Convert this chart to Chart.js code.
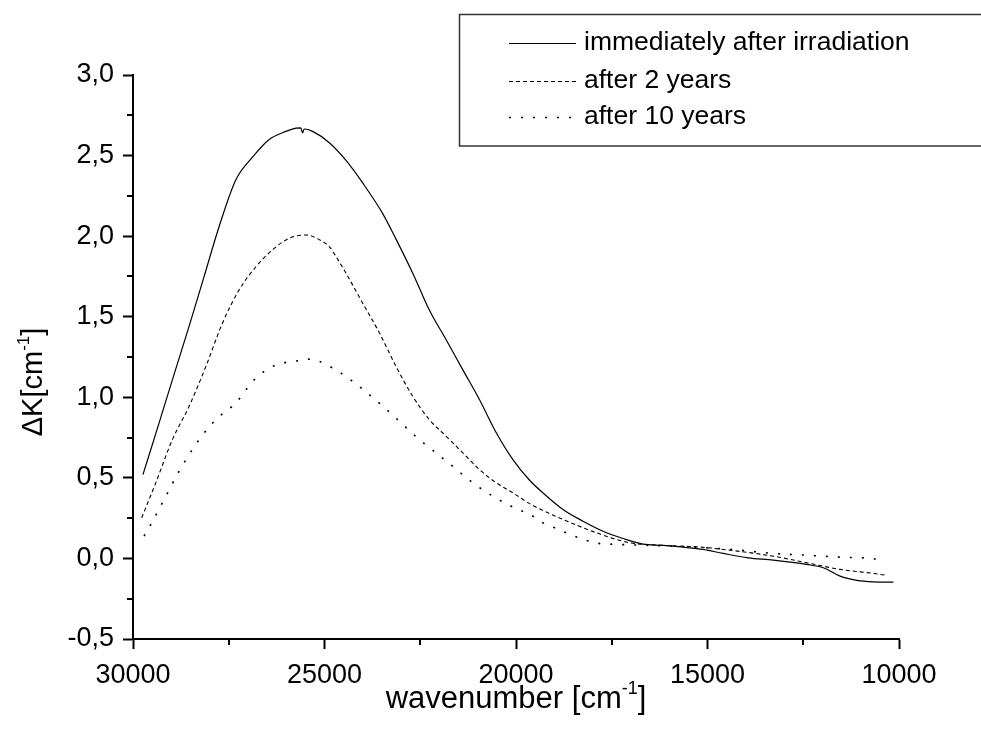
<!DOCTYPE html>
<html><head><meta charset="utf-8">
<script src="https://cdn.jsdelivr.net/npm/chart.js@4.4.1/dist/chart.umd.min.js"></script>
<style>html,body{margin:0;padding:0;background:#fff;overflow:hidden}#wrap{width:981px;height:745px;position:relative}</style>
</head><body><div id="wrap"><canvas id="c" width="981" height="745"></canvas></div>
<script>
const seriesLabels = ['immediately after irradiation', 'after 2 years', 'after 10 years'];

const solidX = [29740,29320,28970,28536,28143,27751,27314,26880,26444,26007,25745,25620,25573,25530,25310,24875,24438,24003,23480,23130,22696,22260,21823,21388,20952,20515,20081,19645,19297,18774,18250,17727,17205,16682,16159,15636,15113,14590,13936,13282,12409,11975,11538,11101,10667,10144];
const solidY = [0.52,0.84,1.11,1.44,1.75,2.06,2.35,2.49,2.60,2.65,2.67,2.672,2.64,2.665,2.65,2.58,2.47,2.33,2.14,1.98,1.77,1.54,1.357,1.17,0.985,0.78,0.613,0.485,0.407,0.304,0.231,0.169,0.124,0.089,0.081,0.070,0.056,0.031,0.004,-0.01,-0.037,-0.058,-0.11,-0.136,-0.145,-0.147];

const dashX = [29773,29406,28972,28536,28099,27665,27228,26791,26357,25920,25484,25050,24875,24699,24438,24003,23567,23130,22696,22260,21823,21388,20952,20515,20081,19645,19166,18774,17900,17030,16159,15286,14415,13282,12409,11538,10667,10317];
const dashY = [0.252,0.469,0.737,0.944,1.19,1.46,1.667,1.81,1.915,1.987,2.007,1.966,1.935,1.873,1.77,1.584,1.40,1.19,1.006,0.861,0.758,0.655,0.551,0.469,0.407,0.340,0.283,0.242,0.159,0.097,0.081,0.072,0.051,0.014,-0.027,-0.068,-0.093,-0.105];

const dotX = [29712,29537,29233,28797,28274,27837,27314,26836,26313,25703,25442,25136,24569,24046,23523,23000,22521,22085,21606,21127,20604,20123,19558,19297,18990,18468,17945,17335,16682,15286,14153,13282,12409,11538,10667,10361];
const dotY = [0.138,0.21,0.345,0.541,0.737,0.861,0.965,1.109,1.196,1.227,1.237,1.222,1.15,1.058,0.954,0.841,0.737,0.655,0.562,0.469,0.386,0.324,0.262,0.221,0.19,0.138,0.097,0.087,0.082,0.070,0.051,0.031,0.020,0.008,-0.002,-0.017];

const xMajorTicks = [30000, 25000, 20000, 15000, 10000];
const xMinorTicks = [27500, 22500, 17500, 12500];
const yMajorTicks = [-0.5, 0.0, 0.5, 1.0, 1.5, 2.0, 2.5, 3.0];
const yMinorTicks = [-0.25, 0.25, 0.75, 1.25, 1.75, 2.25, 2.75];

const FONT = '"Liberation Sans", Arial, sans-serif';
function pts(xs, ys) { return xs.map((x, i) => ({x: x, y: ys[i]})); }

const dashes = [[], [4, 3], [2, 10]];

const decor = {
  id: 'decor',
  beforeDraw(chart) {
    const ctx = chart.ctx;
    ctx.save();
    ctx.fillStyle = '#fff';
    ctx.fillRect(0, 0, chart.width, chart.height);
    ctx.restore();
  },
  afterDraw(chart) {
    const ctx = chart.ctx;
    const xs = chart.scales.x, ys = chart.scales.y;
    const area = chart.chartArea;
    ctx.save();
    ctx.strokeStyle = '#000';
    ctx.lineWidth = 2;
    xMinorTicks.forEach(v => {
      const px = Math.round(xs.getPixelForValue(v));
      ctx.beginPath(); ctx.moveTo(px, area.bottom); ctx.lineTo(px, area.bottom + 6); ctx.stroke();
    });
    yMinorTicks.forEach(v => {
      const py = Math.round(ys.getPixelForValue(v));
      ctx.beginPath(); ctx.moveTo(area.left, py); ctx.lineTo(area.left - 6, py); ctx.stroke();
    });
    ctx.fillStyle = '#000';
    ctx.textBaseline = 'alphabetic';
    ctx.textAlign = 'left';
    function drawSup(parts, x, y, size, ssize, rise) {
      let cx = x;
      parts.forEach(p => {
        ctx.font = (p.sup ? ssize : size) + 'px ' + FONT;
        ctx.fillText(p.t, cx, y + (p.sup ? -rise : 0));
        cx += ctx.measureText(p.t).width;
      });
      return cx - x;
    }
    function widthSup(parts, size, ssize) {
      let w = 0;
      parts.forEach(p => { ctx.font = (p.sup ? ssize : size) + 'px ' + FONT; w += ctx.measureText(p.t).width; });
      return w;
    }
    const xt = [{t: 'wavenumber [cm'}, {t: '-1', sup: true}, {t: ']'}];
    const wx = widthSup(xt, 31, 18);
    drawSup(xt, 516 - wx / 2, 708, 31, 18, 14);
    const yt = [{t: '\u0394K[cm'}, {t: '-1', sup: true}, {t: ']'}];
    const wy = widthSup(yt, 29, 17);
    ctx.save();
    ctx.translate(42, 382);
    ctx.rotate(-Math.PI / 2);
    drawSup(yt, -wy / 2, 0, 29, 17, 13);
    ctx.restore();
    // legend
    ctx.lineWidth = 1.5;
    ctx.strokeStyle = '#333';
    ctx.strokeRect(459.5, 14.5, 600, 131.5);
    const rows = [43, 81, 117];
    chart.data.datasets.forEach((ds, i) => {
      ctx.save();
      ctx.strokeStyle = '#000';
      ctx.lineWidth = ds.borderWidth;
      ctx.setLineDash(ds.borderDash || []);
      ctx.beginPath(); ctx.moveTo(509, rows[i] + 0.5); ctx.lineTo(576, rows[i] + 0.5); ctx.stroke();
      ctx.restore();
      ctx.font = '26.5px ' + FONT;
      ctx.fillStyle = '#000';
      ctx.textBaseline = 'middle';
      ctx.fillText(ds.label, 584, rows[i]);
    });
    ctx.restore();
  }
};

new Chart(document.getElementById('c'), {
  type: 'line',
  data: {
    datasets: [
      {label: seriesLabels[0], data: pts(solidX, solidY), borderColor: '#000', borderWidth: 1.2, borderDash: dashes[0], pointRadius: 0, cubicInterpolationMode: 'monotone', fill: false},
      {label: seriesLabels[1], data: pts(dashX, dashY), borderColor: '#000', borderWidth: 1.1, borderDash: dashes[1], pointRadius: 0, cubicInterpolationMode: 'monotone', fill: false},
      {label: seriesLabels[2], data: pts(dotX, dotY), borderColor: '#000', borderWidth: 1.6, borderDash: dashes[2], pointRadius: 0, cubicInterpolationMode: 'monotone', fill: false}
    ]
  },
  options: {
    responsive: false,
    animation: false,
    devicePixelRatio: 1,
    layout: {padding: {top: 75, right: 82, left: 0, bottom: 0}},
    plugins: {legend: {display: false}, tooltip: {enabled: false}, title: {display: false}},
    scales: {
      x: {
        type: 'linear', reverse: true, min: 10000, max: 30000, position: 'bottom',
        afterFit: s => { s.height = 106; },
        afterBuildTicks: s => { s.ticks = xMajorTicks.map(v => ({value: v})); },
        ticks: {color: '#000', font: {family: FONT, size: 27}, padding: 10, maxRotation: 0, autoSkip: false, callback: v => String(v)},
        grid: {drawOnChartArea: false, drawTicks: true, tickLength: 10, tickWidth: 2, tickColor: '#000'},
        border: {display: true, color: '#000', width: 2}
      },
      y: {
        type: 'linear', min: -0.5, max: 3.0,
        afterFit: s => { s.width = 133; },
        afterBuildTicks: s => { s.ticks = yMajorTicks.map(v => ({value: v})); },
        ticks: {color: '#000', font: {family: FONT, size: 27}, padding: 9, callback: v => v.toFixed(1).replace('.', ',')},
        grid: {drawOnChartArea: false, drawTicks: true, tickLength: 10, tickWidth: 2, tickColor: '#000'},
        border: {display: true, color: '#000', width: 2}
      }
    }
  },
  plugins: [decor]
});
</script>
</body></html>
